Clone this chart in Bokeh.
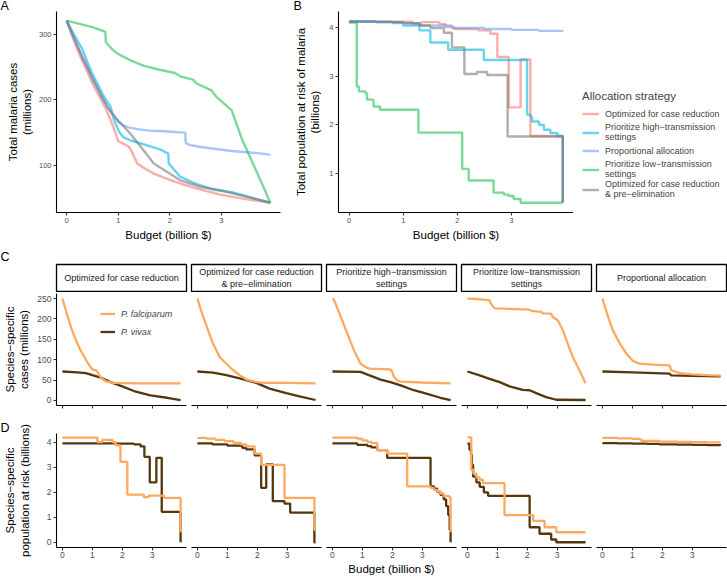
from bokeh.plotting import figure
from bokeh.layouts import column, row
from bokeh.models import Range1d, FixedTicker, Legend, LegendItem, Title
from bokeh.embed import file_html
from bokeh.resources import INLINE
from bokeh.core.properties import value
try:
    from bokeh.models import GlobalInlineStyleSheet
except Exception:
    GlobalInlineStyleSheet = None

FONT = "Liberation Sans"

# ---------------- categories / labels ----------------
strategies = [
    "Optimized for case reduction",
    "Prioritize high\u2212transmission\nsettings",
    "Proportional allocation",
    "Prioritize low\u2212transmission\nsettings",
    "Optimized for case reduction\n& pre\u2212elimination",
]
strategy_colors = ["#F8766D", "#00B5E8", "#6D9EF5", "#1FBF55", "#7A7A7A"]
facet_labels = [
    "Optimized for case reduction",
    "Optimized for case reduction\n& pre\u2212elimination",
    "Prioritize high\u2212transmission\nsettings",
    "Prioritize low\u2212transmission\nsettings",
    "Proportional allocation",
]
species = ["P. falciparum", "P. vivax"]
species_colors = ["#FFA95E", "#55370F"]
budget_ticks = [0, 1, 2, 3]

# ---------------- Panel A: total cases (millions) ----------------
a_x_red = [0, 0.1, 0.2, 0.3, 0.4, 0.5, 0.6, 0.75, 0.9, 1.0, 1.2, 1.25, 1.37, 1.5, 1.7, 2.0, 2.3, 2.6, 3.0, 3.5, 3.95]
a_y_red = [321, 299, 278, 260, 243, 225, 210, 188, 160, 137, 129, 123, 103, 96, 87, 78, 70, 63, 55, 48, 43]
a_x_cyan = [0, 0.1, 0.2, 0.3, 0.4, 0.5, 0.6, 0.73, 0.85, 0.92, 1.02, 1.1, 1.24, 1.5, 1.7, 1.82, 1.97, 1.98, 2.1, 2.2, 2.47, 2.85, 3.2, 3.44, 3.7, 3.95]
a_y_cyan = [321, 306, 292, 278, 258, 240, 224, 204, 190, 169, 151, 143, 138, 132, 127, 124, 118, 103, 92, 83, 73, 63, 59, 54, 48, 43]
a_x_blue = [0, 0.1, 0.2, 0.3, 0.4, 0.5, 0.6, 0.7, 0.8, 0.9, 1.0, 1.1, 1.2, 1.4, 1.6, 1.9, 2.1, 2.3, 2.31, 2.4, 2.6, 2.9, 3.2, 3.5, 3.8, 3.95]
a_y_blue = [321, 302, 284, 266, 250, 234, 218, 202, 188, 176, 167, 161, 158, 155, 153, 152, 151, 150, 134, 131, 128, 125, 122, 120, 118, 116]
a_x_green = [0, 0.25, 0.5, 0.75, 0.76, 0.9, 1.0, 1.25, 1.5, 1.8, 2.1, 2.2, 2.45, 2.52, 2.8, 2.9, 3.0, 3.2, 3.4, 3.6, 3.8, 3.95]
a_y_green = [321, 316, 311, 304, 288, 276, 270, 260, 252, 246, 241, 236, 231, 225, 215, 205, 198, 184, 140, 105, 70, 43]
a_x_grey = [0, 0.1, 0.2, 0.3, 0.4, 0.5, 0.6, 0.7, 0.8, 0.9, 1.0, 1.1, 1.24, 1.44, 1.69, 1.95, 2.21, 2.6, 2.98, 3.5, 3.95]
a_y_grey = [321, 302, 284, 266, 250, 232, 217, 202, 188, 178, 168, 160, 148, 128, 103, 90, 77, 67, 62, 52, 43]

# ---------------- Panel B: total population at risk (billions), step ----------------
b_x_red = [0, 1.17, 1.33, 1.67, 1.78, 1.94, 2.39, 2.61, 2.74, 2.95, 3.17, 3.35, 3.95]
b_y_red = [4.13, 4.08, 4.12, 4.08, 4.02, 3.98, 3.95, 3.88, 3.4, 2.36, 3.35, 1.77, 0.4]
b_x_cyan = [0, 0.8, 1.0, 1.3, 1.5, 1.83, 2.49, 3.29, 3.35, 3.38, 3.51, 3.6, 3.72, 3.85, 3.95]
b_y_cyan = [4.13, 4.1, 4.05, 3.95, 3.7, 3.55, 3.34, 2.21, 2.17, 2.07, 2.0, 1.9, 1.83, 1.77, 0.4]
b_x_blue = [0, 0.5, 1.0, 1.3, 1.9, 2.5, 3.0, 3.5, 3.95]
b_y_blue = [4.14, 4.12, 4.1, 4.05, 4.0, 3.98, 3.96, 3.94, 3.93]
b_x_green = [0, 0.14, 0.18, 0.3, 0.33, 0.45, 0.57, 1.28, 2.09, 2.21, 2.67, 2.86, 2.95, 3.04, 3.17, 3.95]
b_y_green = [4.11, 2.79, 2.69, 2.65, 2.52, 2.38, 2.31, 1.84, 1.09, 0.85, 0.6, 0.56, 0.53, 0.47, 0.39, 0.39]
b_x_grey = [0, 0.5, 1.0, 1.3, 1.5, 1.75, 1.9, 2.13, 2.36, 2.55, 2.93, 3.95]
b_y_grey = [4.13, 4.12, 4.1, 4.05, 4.0, 3.9, 3.6, 3.05, 3.09, 3.03, 1.76, 0.4]

# ---------------- Panel C: species-specific cases (millions) ----------------
c1_x_pf = [0, 0.1, 0.2, 0.3, 0.4, 0.5, 0.6, 0.7, 0.8, 0.9, 1.0, 1.15, 1.2, 1.3, 1.45, 1.7, 2.5, 3.95]
c1_y_pf = [250, 225, 200, 177, 157, 140, 124, 111, 98, 86, 76, 73, 66, 55, 47, 43, 42, 42]
c1_x_pv = [0, 0.5, 0.78, 1.0, 1.28, 1.61, 2.0, 2.39, 2.94, 3.5, 3.95]
c1_y_pv = [71, 69, 67, 62, 56, 45, 34.5, 23, 12.3, 6.5, 0.5]
c2_x_pf = [0, 0.1, 0.2, 0.3, 0.4, 0.52, 0.6, 0.74, 0.9, 1.08, 1.25, 1.41, 1.6, 1.74, 2.0, 2.24, 3.0, 3.95]
c2_y_pf = [250, 226, 204, 184, 163, 140, 128, 107, 95, 82, 71, 62, 53, 49, 45, 43, 43, 42]
c2_x_pv = [0, 0.52, 0.97, 1.41, 1.97, 2.41, 2.97, 3.41, 3.95]
c2_y_pv = [71, 68, 62, 54, 43, 29, 18, 10, 1]
c3_x_pf = [0, 0.06, 0.28, 0.5, 0.72, 0.94, 1.11, 1.22, 1.94, 2.0, 2.05, 2.17, 2.28, 3.0, 3.95]
c3_y_pf = [250, 246, 205, 164, 123, 90, 82, 78, 76, 70, 59, 49, 46, 44, 42]
c3_x_pv = [0, 0.94, 1.22, 1.61, 1.94, 2.28, 2.72, 3.17, 3.61, 3.95]
c3_y_pv = [71, 70, 62, 51, 45, 37, 25, 16, 6.5, 0.5]
c4_x_pf = [0, 0.3, 0.6, 0.74, 0.8, 0.91, 2.08, 2.13, 2.47, 2.52, 2.8, 2.85, 3.02, 3.19, 3.35, 3.52, 3.69, 3.95]
c4_y_pf = [250, 249, 247, 246, 236, 226, 223, 220, 217.5, 213.5, 213, 205, 197, 172, 140, 107, 82, 42]
c4_x_pv = [0, 0.41, 0.74, 1.08, 1.41, 1.85, 2.08, 2.3, 2.63, 2.97, 3.95]
c4_y_pv = [71, 61.6, 53, 45, 34.5, 26, 25, 18, 8, 1.6, 1.0]
c5_x_pf = [0, 0.19, 0.35, 0.58, 0.8, 1.02, 1.24, 1.69, 2.24, 2.3, 2.58, 3.0, 3.5, 3.95]
c5_y_pf = [250, 205, 172, 140, 115, 97, 90, 88, 86, 74, 67, 64, 62, 61]
c5_x_pv = [0, 1.0, 2.0, 2.24, 2.3, 3.0, 3.95]
c5_y_pv = [71, 69, 66.5, 65.6, 61.6, 60.5, 59]

# ---------------- Panel D: species-specific population at risk (billions), step ----------------
d1_x_pf = [0, 1.17, 1.33, 1.67, 1.78, 1.94, 2.17, 2.72, 2.89, 3.39, 3.95]
d1_y_pf = [4.19, 4.01, 4.1, 4.01, 3.88, 3.22, 1.91, 1.81, 1.87, 1.78, 0.4]
d1_x_pv = [0, 1.83, 2.39, 2.61, 2.74, 2.92, 3.14, 3.32, 3.95]
d1_y_pv = [3.96, 3.95, 3.92, 3.84, 3.42, 2.4, 3.38, 1.22, 0.0]
d2_x_pf = [0, 0.3, 0.6, 0.9, 1.2, 1.45, 1.63, 1.91, 2.13, 2.91, 3.91, 3.95]
d2_y_pf = [4.18, 4.15, 4.1, 4.05, 3.98, 3.92, 3.84, 3.55, 3.1, 1.78, 0.5, 0.5]
d2_x_pv = [0, 0.5, 1.0, 1.5, 1.63, 1.91, 2.13, 2.3, 2.52, 2.91, 3.1, 3.91, 3.95]
d2_y_pv = [3.96, 3.92, 3.87, 3.78, 3.72, 3.48, 2.18, 3.12, 1.65, 1.55, 1.19, 0.0, 0.0]
d3_x_pf = [0, 0.83, 1.0, 1.17, 1.3, 1.5, 1.83, 2.5, 3.28, 3.39, 3.5, 3.61, 3.72, 3.9, 3.95]
d3_y_pf = [4.19, 4.15, 4.08, 4.02, 3.97, 3.69, 3.55, 2.24, 2.18, 2.1, 2.04, 1.95, 1.85, 1.8, 0.4]
d3_x_pv = [0, 0.83, 1.17, 1.3, 1.5, 1.83, 3.28, 3.39, 3.5, 3.61, 3.72, 3.8, 3.87, 3.92, 3.95]
d3_y_pv = [3.96, 3.9, 3.85, 3.8, 3.69, 3.38, 2.24, 2.15, 2.02, 1.9, 1.72, 1.45, 1.1, 0.5, 0.0]
d4_x_pf = [0, 0.13, 0.2, 0.3, 0.41, 0.52, 1.24, 2.2, 2.58, 2.97, 3.95]
d4_y_pf = [4.2, 2.9, 2.75, 2.6, 2.5, 2.37, 1.09, 0.86, 0.6, 0.4, 0.4]
d4_x_pv = [0, 0.07, 0.12, 0.15, 0.19, 0.3, 0.41, 0.55, 0.69, 2.08, 2.41, 2.8, 2.97, 3.95]
d4_y_pv = [3.95, 3.7, 3.5, 3.1, 2.63, 2.4, 2.22, 2.0, 1.86, 0.6, 0.34, 0.11, 0.0, 0.0]
d5_x_pf = [0, 0.5, 1.0, 1.24, 1.3, 1.9, 2.5, 3.0, 3.5, 3.95]
d5_y_pf = [4.18, 4.16, 4.14, 4.12, 4.06, 4.03, 4.02, 4.01, 4.0, 4.0]
d5_x_pv = [0, 0.5, 1.0, 1.5, 1.9, 2.5, 3.0, 3.5, 3.95]
d5_y_pv = [3.97, 3.96, 3.95, 3.94, 3.92, 3.91, 3.9, 3.89, 3.88]

# ---------------- helpers ----------------
X_RANGE = (-0.1975, 4.1475)


def base_fig(width, height, bl, br, bt, bb, xr, yr, xloc="below", yloc="left"):
    p = figure(width=width, height=height, x_range=Range1d(*xr), y_range=Range1d(*yr),
               output_backend="svg", toolbar_location=None, tools="",
               min_border_left=bl, min_border_right=br, min_border_top=bt, min_border_bottom=bb,
               x_axis_location=xloc, y_axis_location=yloc)
    p.xgrid.visible = False
    p.ygrid.visible = False
    p.outline_line_color = None
    p.background_fill_color = "white"
    p.border_fill_color = "white"
    return p


def style_axis(ax, tick_px):
    ax.axis_line_color = "black"
    ax.axis_line_width = 1.1
    ax.major_tick_line_color = "#333333"
    ax.major_tick_line_width = 1.1
    ax.major_tick_in = 0
    ax.major_tick_out = 3
    ax.minor_tick_line_color = None
    ax.major_label_text_color = "#4D4D4D"
    ax.major_label_text_font = FONT
    ax.major_label_text_font_size = tick_px
    ax.major_label_standoff = 2
    ax.axis_label_text_font = FONT
    ax.axis_label_text_font_style = "normal"
    ax.axis_label_text_font_size = "11.5px"
    ax.axis_label_text_color = "black"


def letter(p, text, offset, standoff):
    p.title = Title(text=text, align="left", offset=offset, vertical_align="top",
                    standoff=standoff, text_font=FONT, text_font_size="12.5px",
                    text_font_style="normal", text_color="black")


def style_legend(leg, size, italic=False):
    leg.label_text_font = FONT
    leg.label_text_font_size = size
    leg.label_text_font_style = "italic" if italic else "normal"
    leg.label_text_line_height = 0.95
    leg.glyph_height = 17
    leg.label_height = 17
    leg.label_standoff = 6
    leg.spacing = 0
    leg.padding = 0
    leg.margin = 0
    leg.border_line_color = None
    leg.background_fill_alpha = 0


# ---------------- top row ----------------
a_xs = [a_x_red, a_x_cyan, a_x_blue, a_x_green, a_x_grey]
a_ys = [a_y_red, a_y_cyan, a_y_blue, a_y_green, a_y_grey]
b_xs = [b_x_red, b_x_cyan, b_x_blue, b_x_green, b_x_grey]
b_ys = [b_y_red, b_y_cyan, b_y_blue, b_y_green, b_y_grey]

pA = base_fig(288, 250, 56, 8, 11, 38, X_RANGE, (28.05, 334.95))
for xs, ys, col in zip(a_xs, a_ys, strategy_colors):
    pA.line(xs, ys, line_color=col, line_alpha=0.6, line_width=2.4)
style_axis(pA.xaxis[0], "7.5px")
style_axis(pA.yaxis[0], "7.5px")
pA.xaxis.ticker = FixedTicker(ticks=budget_ticks)
pA.yaxis.ticker = FixedTicker(ticks=[100, 200, 300])
pA.xaxis.axis_label = "Budget (billion $)"
pA.yaxis.axis_label = "Total malaria cases\n(millions)"
pA.yaxis.axis_label_standoff = 3
pA.xaxis.axis_label_standoff = 3
letter(pA, "A", -56, -7)

pB = base_fig(285, 250, 50, 0, 11, 38, X_RANGE, (0.19, 4.34))
for xs, ys, col in zip(b_xs, b_ys, strategy_colors):
    pB.step(xs, ys, mode="after", line_color=col, line_alpha=0.6, line_width=2.4)
style_axis(pB.xaxis[0], "7.5px")
style_axis(pB.yaxis[0], "7.5px")
pB.xaxis.ticker = FixedTicker(ticks=budget_ticks)
pB.yaxis.ticker = FixedTicker(ticks=[1, 2, 3, 4])
pB.xaxis.axis_label = "Budget (billion $)"
pB.yaxis.axis_label = "Total population at risk of malaria\n(billions)"
pB.yaxis.axis_label_standoff = 5
pB.xaxis.axis_label_standoff = 3
letter(pB, "B", -45, -7)

# legend for A/B: its own blank canvas to the right of B; the key lines come from
# the panel-A series drawn outside this canvas's (empty) y-range, so only the keys show
pL = base_fig(154, 250, 0, 0, 11, 38, (0, 1), (1000, 1001), xloc=None, yloc=None)
key_renderers = [pL.line(xs, ys, line_color=col, line_alpha=0.6, line_width=2.4)
                 for xs, ys, col in zip(a_xs, a_ys, strategy_colors)]
legB = Legend(items=[LegendItem(label=lab, renderers=[r]) for lab, r in zip(strategies, key_renderers)],
              location=(9, 13), title="Allocation strategy")
style_legend(legB, "9px")
legB.glyph_width = 17
legB.title_text_font = FONT
legB.title_text_font_size = "11.5px"
legB.title_text_font_style = "normal"
legB.title_standoff = 3
pL.add_layout(legB)

# ---------------- facet geometry ----------------
widths = [188, 135, 135, 135, 134]
lefts = [56, 3, 3, 3, 3]
rights = [2, 2, 2, 2, 1]

# strips
strips = []
for i, lab in enumerate(facet_labels):
    s = base_fig(widths[i], 42, lefts[i], rights[i], 14, 1, (0, 1), (0, 1), xloc=None, yloc=None)
    s.outline_line_color = "black"
    s.outline_line_width = 1.3
    s.text(x=[0.5], y=[0.5], text=[lab], text_align="center", text_baseline="middle",
           text_font=value(FONT), text_font_size="9px", text_color="#1A1A1A")
    strips.append(s)
letter(strips[0], "C", -56, -2)

# C row
c_pf_x = [c1_x_pf, c2_x_pf, c3_x_pf, c4_x_pf, c5_x_pf]
c_pf_y = [c1_y_pf, c2_y_pf, c3_y_pf, c4_y_pf, c5_y_pf]
c_pv_x = [c1_x_pv, c2_x_pv, c3_x_pv, c4_x_pv, c5_x_pv]
c_pv_y = [c1_y_pv, c2_y_pv, c3_y_pv, c4_y_pv, c5_y_pv]
cfigs = []
for i in range(5):
    p = base_fig(widths[i], 130, lefts[i], rights[i], 1, 17, X_RANGE, (-12.5, 262.5),
                 yloc="left" if i == 0 else None)
    rv = p.line(c_pv_x[i], c_pv_y[i], line_color=species_colors[1], line_width=2.3)
    rf = p.line(c_pf_x[i], c_pf_y[i], line_color=species_colors[0], line_width=2.3)
    style_axis(p.xaxis[0], "1px")
    p.xaxis.ticker = FixedTicker(ticks=budget_ticks)
    p.xaxis.major_label_text_color = None
    p.xaxis.major_label_standoff = 0
    if i == 0:
        style_axis(p.yaxis[0], "8.5px")
        p.yaxis.ticker = FixedTicker(ticks=[0, 50, 100, 150, 200, 250])
        p.yaxis.axis_label = "Species\u2212specific\ncases (millions)"
        p.yaxis.axis_label_standoff = 4
        legC = Legend(items=[LegendItem(label=species[0], renderers=[rf]),
                             LegendItem(label=species[1], renderers=[rv])],
                      location=(44, 65))
        style_legend(legC, "9px", italic=True)
        legC.spacing = 1
        legC.glyph_width = 15
        p.add_layout(legC)
    cfigs.append(p)

# D row
d_pf_x = [d1_x_pf, d2_x_pf, d3_x_pf, d4_x_pf, d5_x_pf]
d_pf_y = [d1_y_pf, d2_y_pf, d3_y_pf, d4_y_pf, d5_y_pf]
d_pv_x = [d1_x_pv, d2_x_pv, d3_x_pv, d4_x_pv, d5_x_pv]
d_pv_y = [d1_y_pv, d2_y_pv, d3_y_pv, d4_y_pv, d5_y_pv]
dfigs = []
for i in range(5):
    p = base_fig(widths[i], 155, lefts[i], rights[i], 11, 28, X_RANGE, (-0.21, 4.355),
                 yloc="left" if i == 0 else None)
    p.step(d_pv_x[i], d_pv_y[i], mode="after", line_color=species_colors[1], line_width=2.3)
    p.step(d_pf_x[i], d_pf_y[i], mode="after", line_color=species_colors[0], line_width=2.3)
    style_axis(p.xaxis[0], "8.5px")
    p.xaxis.ticker = FixedTicker(ticks=budget_ticks)
    p.xaxis.major_label_standoff = 1
    if i == 2:
        p.xaxis.axis_label = "Budget (billion $)"
        p.xaxis.axis_label_standoff = 2
    if i == 0:
        style_axis(p.yaxis[0], "8.5px")
        p.yaxis.ticker = FixedTicker(ticks=[0, 1, 2, 3, 4])
        p.yaxis.axis_label = "Species\u2212specific\npopulation at risk (billions)"
        p.yaxis.axis_label_standoff = 13
        letter(p, "D", -56, -7)
    dfigs.append(p)

root = column(row(pA, pB, pL), row(*strips), row(*cfigs), row(*dfigs))
if GlobalInlineStyleSheet is not None:
    root.stylesheets = [GlobalInlineStyleSheet(css="html, body { margin: 0 !important; padding: 0 !important; }")]

open("out.html", "w").write(file_html(root, INLINE))
